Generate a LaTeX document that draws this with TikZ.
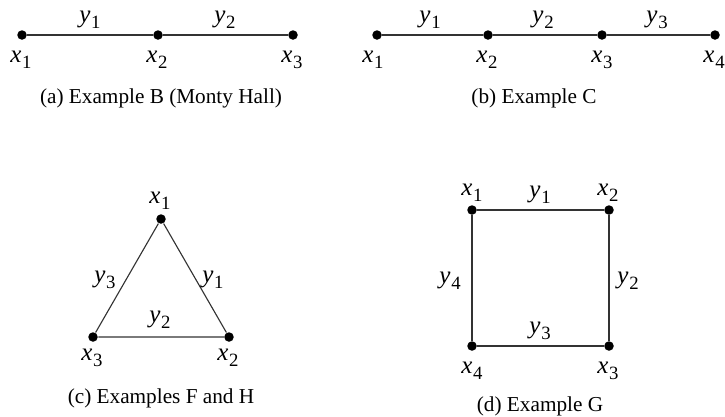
\documentclass[tikz,border=0pt]{standalone}
\usepackage{fontspec}
\setmainfont{Liberation Serif}
\newcommand\lab[2]{\textit{#1}\kern0.03em\raisebox{-0.25em}{\fontsize{7.5}{8}\selectfont #2}}
\begin{document}
\begin{tikzpicture}[x=0.4pt,y=-0.4pt,
  dot/.style={circle,fill=black,inner sep=0pt,minimum size=3.8pt},
  edge/.style={line width=0.45pt,draw=black!80},
  lbl/.style={anchor=base,inner sep=0pt,font=\fontsize{10}{12}\selectfont},
  captxt/.style={anchor=base,inner sep=0pt,font=\fontsize{8.5}{10}\selectfont}]
\useasboundingbox (0,0) rectangle (725,416);
% (a)
\node[dot] (a1) at (22,35) {};
\node[dot] (a2) at (158,35) {};
\node[dot] (a3) at (293,35) {};
\draw[edge] (a1) -- (a2) -- (a3);
\node[lbl] (ax1) at (21,62) {\lab{x}{1}};
\node[lbl] (ax2) at (157,62) {\lab{x}{2}};
\node[lbl] (ax3) at (292,62) {\lab{x}{3}};
\node[lbl] (ay1) at (90,22) {\lab{y}{1}};
\node[lbl] (ay2) at (225,22) {\lab{y}{2}};
\node[captxt] (capa) at (161,103) {(a) Example B (Monty Hall)};
% (b)
\node[dot] (b1) at (377,35) {};
\node[dot] (b2) at (488,35) {};
\node[dot] (b3) at (602,35) {};
\node[dot] (b4) at (715,35) {};
\draw[edge] (b1) -- (b2) -- (b3) -- (b4);
\node[lbl] (bx1) at (373,62) {\lab{x}{1}};
\node[lbl] (bx2) at (487,62) {\lab{x}{2}};
\node[lbl] (bx3) at (602,62) {\lab{x}{3}};
\node[lbl] (bx4) at (714,62) {\lab{x}{4}};
\node[lbl] (by1) at (430,22) {\lab{y}{1}};
\node[lbl] (by2) at (543,22) {\lab{y}{2}};
\node[lbl] (by3) at (657,22) {\lab{y}{3}};
\node[captxt] (capb) at (534,103) {(b) Example C};
% (c)
\node[dot] (c1) at (161,219) {};
\node[dot] (c3) at (93,337) {};
\node[dot] (c2) at (229,337) {};
\draw[edge] (c1) -- (c2) -- (c3) -- (c1);
\node[lbl] (cx1) at (160,203) {\lab{x}{1}};
\node[lbl] (cx3) at (92,360) {\lab{x}{3}};
\node[lbl] (cx2) at (228,360) {\lab{x}{2}};
\node[lbl] (cy3) at (105,282) {\lab{y}{3}};
\node[lbl] (cy1) at (213,282) {\lab{y}{1}};
\node[lbl] (cy2) at (160,322) {\lab{y}{2}};
\node[captxt] (capc) at (161,403) {(c) Examples F and H};
% (d)
\node[dot] (d1) at (472,210) {};
\node[dot] (d2) at (609,210) {};
\node[dot] (d3) at (609,346) {};
\node[dot] (d4) at (472,346) {};
\draw[edge] (d1) -- (d2) -- (d3) -- (d4) -- (d1);
\node[lbl] (dx1) at (472,195) {\lab{x}{1}};
\node[lbl] (dx2) at (608,195) {\lab{x}{2}};
\node[lbl] (dx3) at (608,373) {\lab{x}{3}};
\node[lbl] (dx4) at (472,373) {\lab{x}{4}};
\node[lbl] (dy1) at (540,197) {\lab{y}{1}};
\node[lbl] (dy2) at (628,283) {\lab{y}{2}};
\node[lbl] (dy3) at (540,333) {\lab{y}{3}};
\node[lbl] (dy4) at (450,283) {\lab{y}{4}};
\node[captxt] (capd) at (540,411) {(d) Example G};
\end{tikzpicture}
\end{document}
